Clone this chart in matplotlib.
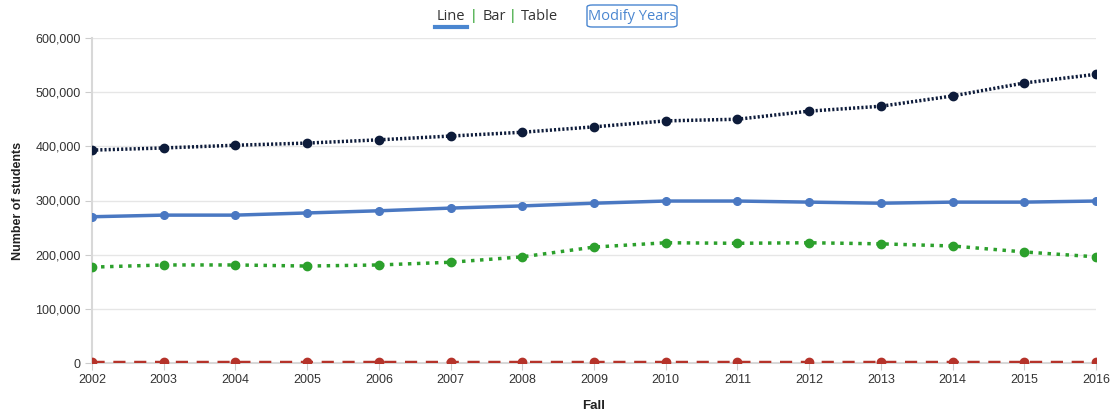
import matplotlib
matplotlib.use("Agg")
import matplotlib.pyplot as plt
from matplotlib.ticker import FuncFormatter
from matplotlib.patches import FancyBboxPatch

years = list(range(2002, 2017))
series_black = [393000, 397000, 402000, 406000, 412000, 419000, 426000, 436000,
                447000, 450000, 465000, 474000, 493000, 517000, 533000]
series_blue = [270000, 273000, 273000, 277000, 281000, 286000, 290000, 295000,
               299000, 299000, 297000, 295000, 297000, 297000, 299000]
series_green = [177000, 181000, 181000, 179000, 181000, 186000, 196000, 214000,
                222000, 221000, 222000, 220000, 216000, 205000, 196000]
series_red = [1000] * 15
y_ticks = [0, 100000, 200000, 300000, 400000, 500000, 600000]

plt.rcParams['font.family'] = ['Liberation Sans', 'DejaVu Sans']

fig = plt.figure(figsize=(11.12, 4.17), dpi=100)
ax = fig.add_axes([92/1112, 1 - 363/417, (1096-92)/1112, (363-38)/417])

ax.plot(years, series_blue, color='#4a78c2', lw=2.5, marker='o', ms=5.5, zorder=3)
ax.plot(years, series_green, color='#2ca02c', lw=2.5, ls=(0, (1, 1.6)), marker='o', ms=6, zorder=3)
ax.plot(years, series_red, color='#b5332a', lw=2.5, ls=(0, (3.5, 2.5)), marker='o', ms=6, zorder=3)
ax.plot(years, series_black, color='#0d1b3a', lw=2.5, ls=(0, (0.6, 0.6)), marker='o', ms=6, zorder=4)

ax.set_xlim(2002, 2016)
ax.set_ylim(0, 600000)
ax.set_xticks(years)
ax.set_yticks(y_ticks)
ax.yaxis.set_major_formatter(FuncFormatter(lambda v, p: f"{int(v):,}"))
ax.grid(axis='y', color='#e6e6e6', lw=1)
ax.set_axisbelow(True)
for s in ['top', 'right']:
    ax.spines[s].set_visible(False)
for s in ['left', 'bottom']:
    ax.spines[s].set_color('#d8d8d8')
    ax.spines[s].set_linewidth(1.5)
ax.tick_params(axis='both', colors='#cccccc', labelcolor='#333333', labelsize=9, length=5)
ax.tick_params(axis='y', pad=3)
ax.tick_params(axis='x', pad=3)
ax.set_xlabel('Fall', fontsize=9.5, fontweight='bold', labelpad=10, color='#222222')
ax.set_ylabel('Number of students', fontsize=9, fontweight='bold', labelpad=8, color='#222222')

# top controls
ty = 1 - 16/417
fig.text(451/1112, ty, 'Line', fontsize=10.5, family='Open Sans', color='#333333', ha='center', va='center')
fig.add_artist(plt.Line2D([435/1112, 467/1112], [1 - 27/417, 1 - 27/417], color='#4a86d0', lw=3))
fig.text(474/1112, ty, '|', fontsize=10.5, color='#2ca02c', ha='center', va='center')
fig.text(494/1112, ty, 'Bar', fontsize=10.5, family='Open Sans', color='#333333', ha='center', va='center')
fig.text(513/1112, ty, '|', fontsize=10.5, color='#2ca02c', ha='center', va='center')
fig.text(539/1112, ty, 'Table', fontsize=10.5, family='Open Sans', color='#333333', ha='center', va='center')
box = FancyBboxPatch((587/1112, 1 - 27/417), (677-587)/1112, 22/417,
                     boxstyle='round,pad=0,rounding_size=0.005', transform=fig.transFigure,
                     fc='white', ec='#4a86d0', lw=1)
fig.add_artist(box)
fig.text(632/1112, ty, 'Modify Years', fontsize=10.5, family='Open Sans', color='#4a86d0', ha='center', va='center')

fig.savefig('out.png', dpi=100)
